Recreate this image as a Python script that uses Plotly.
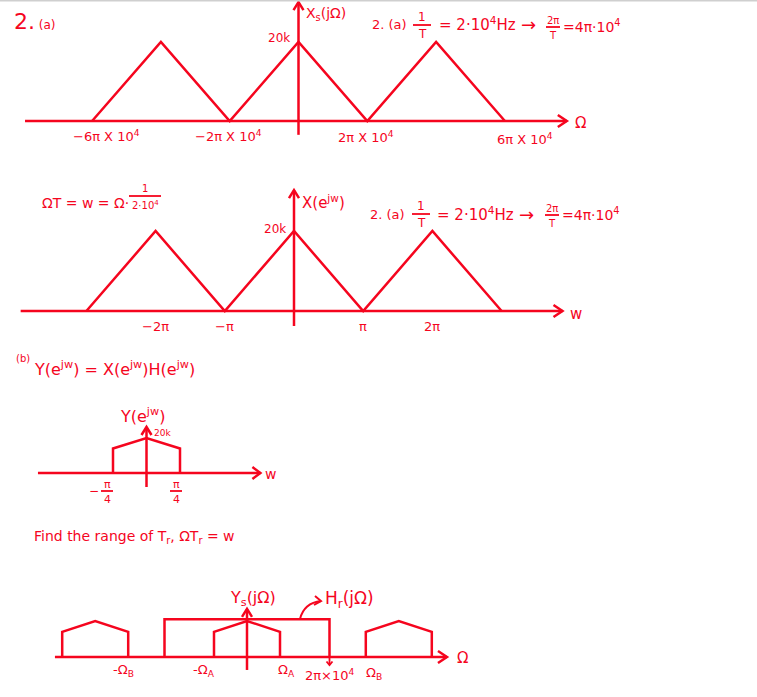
import plotly.graph_objects as go

W, H = 757, 697
RED = "#f5051e"
FONT = "DejaVu Sans"

# ---------------- data ----------------
# Panel 1: Xs(jΩ); Ω in units of π·10^4, amplitude in k
p1_omega = [-6, -4, -2, 0, 2, 4, 6]
p1_amp = [0, 20, 0, 20, 0, 20, 0]
p1_haxis = [-7.95, 7.8]
p1_vaxis = [-3.5, 30.1]
p1_tick_labels = ["−6π X 10<sup>4</sup>", "−2π X 10<sup>4</sup>", "2π X 10<sup>4</sup>", "6π X 10<sup>4</sup>"]

# Panel 2: X(e^jω); ω in units of π
p2_w = [-3, -2, -1, 0, 1, 2, 3]
p2_amp = [0, 20, 0, 20, 0, 20, 0]
p2_haxis = [-3.95, 3.88]
p2_vaxis = [-3.75, 30.2]
p2_tick_vals = [-2, -1, 1, 2]
p2_tick_labels = ["−2π", "−π", "π", "2π"]

# Panel 3: Y(e^jω); ω in units of π
p3_w = [-0.25, -0.25, 0, 0.25, 0.25]
p3_amp = [0, 14, 20, 14, 0]
p3_haxis = [-0.81, 0.85]
p3_vaxis = [-8, 26.3]

# Panel 4: Ys(jΩ) with Hr(jΩ); Ω in units of ΩA
p4_centers = [-4.6, 0, 4.6]
p4_shape_dx = [-1, -1, 0, 1, 1]
p4_shape_amp = [0, 14, 20, 14, 0]
p4_hr_cut = 2.5
p4_hr_gain = 21
p4_haxis = [-5.82, 6.06]
p4_vaxis = [-7.2, 26.7]
p4_tick_vals = [-3.6, -1, 1, 2.5, 3.6]
p4_tick_labels = ["-Ω<sub>B</sub>", "-Ω<sub>A</sub>", "Ω<sub>A</sub>", "2π×10<sup>4</sup>", "Ω<sub>B</sub>"]

# ---------------- panel placement (pixel origin, px per unit) ----------------
panels = {
    2: dict(x0=298.5, sx=34.4, y0=121, sy=3.95),
    3: dict(x0=294.0, sx=69.2, y0=311, sy=4.0),
    4: dict(x0=146.5, sx=134.0, y0=473, sy=1.75),
    5: dict(x0=247.0, sx=33.0, y0=657, sy=1.8),
}

fig = go.Figure()
LW = 2.5


def line(k, xs, ys, width=LW):
    fig.add_trace(go.Scatter(
        x=xs, y=ys, mode="lines", xaxis=f"x{k}", yaxis=f"y{k}",
        line=dict(color=RED, width=width), hoverinfo="skip", showlegend=False))


def axes(k, hx, vy, head=9):
    p = panels[k]
    line(k, hx, [0, 0])
    dx, dy = head / p["sx"], 6 / p["sy"]
    line(k, [hx[1] - dx, hx[1], hx[1] - dx], [dy, 0, -dy])
    line(k, [0, 0], vy)
    dx, dy = 5 / p["sx"], 8 / p["sy"]
    line(k, [-dx, 0, dx], [vy[1] - dy, vy[1], vy[1] - dy])


# panel 1
axes(2, p1_haxis, p1_vaxis)
line(2, p1_omega, p1_amp)
# panel 2
axes(3, p2_haxis, p2_vaxis)
line(3, p2_w, p2_amp)
# panel 3
axes(4, p3_haxis, p3_vaxis, head=8)
line(4, p3_w, p3_amp)
# panel 4
axes(5, p4_haxis, p4_vaxis, head=9)
for c in p4_centers:
    line(5, [c + d for d in p4_shape_dx], p4_shape_amp)
line(5, [-p4_hr_cut, -p4_hr_cut, p4_hr_cut, p4_hr_cut], [0, p4_hr_gain, p4_hr_gain, 0])
p = panels[5]
line(5, [p4_hr_cut, p4_hr_cut], [0, -4.5], width=1.8)
line(5, [p4_hr_cut - 3 / p["sx"], p4_hr_cut, p4_hr_cut + 3 / p["sx"]], [-2.5, -4.5, -2.5], width=1.8)

annotations = []
shapes = []


def T(x, y, s, size=13, xanchor="center", xref="x", yref="y", yshift=0):
    annotations.append(dict(
        x=x, y=y, xref=xref, yref=yref, text=s, showarrow=False,
        font=dict(size=size, color=RED, family=FONT),
        xanchor=xanchor, yanchor="middle", yshift=yshift))


def bar(x0, x1, y, width=1.8):
    shapes.append(dict(type="line", xref="x", yref="y", x0=x0, x1=x1, y0=y, y1=y,
                       line=dict(color=RED, width=width)))


def frac(xc, y, num, den, half, size=11, gap=8):
    bar(xc - half, xc + half, y)
    T(xc, y - gap, num, size)
    T(xc, y + gap + 1, den, size)


# top gray border
shapes.append(dict(type="line", xref="paper", yref="y", x0=0, x1=1, y0=0.5, y1=0.5,
                   line=dict(color="#cfcfcf", width=2)))

# ---- panel 1 text
T(12, 21, "2.<span style='font-size:12px'> (a)</span>", 22, "left")
T(304, 14, "X<sub>s</sub>(jΩ)", 14, "left")
T(292, 38, "20k", 12, "right")
for lbl, xc, yy in zip(p1_tick_labels, [106, 228, 366, 525], [136, 136, 137, 139]):
    T(xc, yy, lbl, 13)
T(573, 123, "Ω", 15, "left")

# header formula row 1
T(370, 24, "2. (a)", 13, "left")
frac(422, 25, "1", "T", 9, 12)
T(437, 24, "= 2·10<sup>4</sup>Hz", 15, "left")
T(519, 24, "→", 18, "left")
frac(553, 27, "2π", "T", 7, 10, 7)
T(561, 26, "=4π·10<sup>4</sup>", 14, "left")

# ---- panel 2 text
T(40, 203, "ΩT = w = Ω·", 14, "left")
frac(145, 196, "1", "2·10<sup>4</sup>", 16, 10, 8)
T(300, 202, "X(e<sup>jw</sup>)", 15, "left")
T(288, 229, "20k", 12, "right")
for v, lbl in zip(p2_tick_vals, p2_tick_labels):
    T(v, 0, lbl, 13, xref="x3", yref="y3", yshift=-15)
T(568, 314, "w", 15, "left")

T(368, 214, "2. (a)", 13, "left")
frac(421, 214, "1", "T", 9, 12)
T(435, 214, "= 2·10<sup>4</sup>Hz", 15, "left")
T(517, 214, "→", 18, "left")
frac(552, 215, "2π", "T", 7, 10, 7)
T(560, 214, "=4π·10<sup>4</sup>", 14, "left")

# ---- panel 3 text
T(14, 358, "(b)", 10, "left")
T(32, 368, "Y(e<sup>jw</sup>) = X(e<sup>jw</sup>)H(e<sup>jw</sup>)", 16, "left")
T(142, 415, "Y(e<sup>jw</sup>)", 16)
T(152, 433, "20k", 9, "left")
T(101, 491, "−", 12, "right")
frac(107, 491, "π", "4", 6, 11, 7)
frac(176, 491, "π", "4", 6, 11, 7)
T(263, 474, "w", 14, "left")
T(32, 537, "Find the range of T<sub>r</sub>, ΩT<sub>r</sub> = w", 14, "left")

# ---- panel 4 text
T(228, 598, "Y<sub>s</sub>(jΩ)", 16, "left")
T(323, 599, "H<sub>r</sub>(jΩ)", 17, "left")
for v, lbl, ys in zip(p4_tick_vals, p4_tick_labels, [-13, -13, -13, -18, -16]):
    xs = v
    if lbl.startswith("Ω<sub>B"):
        xs = v + 0.25
    if lbl.startswith("-Ω<sub>B"):
        xs = v - 0.15
    if lbl.startswith("Ω<sub>A"):
        xs = v + 0.2
    if lbl.startswith("-Ω<sub>A"):
        xs = v - 0.3
    T(xs, 0, lbl, 13, xref="x5", yref="y5", yshift=ys)
T(455, 658, "Ω", 15, "left")
# curved leader to Hr label
shapes.append(dict(type="path", xref="x", yref="y", path="M 300,619 Q 304,603 321,601",
                   line=dict(color=RED, width=2)))
shapes.append(dict(type="path", xref="x", yref="y", path="M 315,596 L 321,601 L 314,605",
                   line=dict(color=RED, width=2)))

layout = dict(
    width=W, height=H, margin=dict(l=0, r=0, t=0, b=0),
    paper_bgcolor="white", plot_bgcolor="rgba(0,0,0,0)",
    font=dict(family=FONT, size=13, color=RED),
    showlegend=False, annotations=annotations, shapes=shapes,
    xaxis=dict(range=[0, W], visible=False, domain=[0, 1], fixedrange=True),
    yaxis=dict(range=[H, 0], visible=False, domain=[0, 1], fixedrange=True),
)
for k, pp in panels.items():
    layout[f"xaxis{k}"] = dict(range=[(0 - pp["x0"]) / pp["sx"], (W - pp["x0"]) / pp["sx"]],
                               visible=False, overlaying="x", anchor=f"y{k}")
    layout[f"yaxis{k}"] = dict(range=[(pp["y0"] - H) / pp["sy"], pp["y0"] / pp["sy"]],
                               visible=False, overlaying="y", anchor=f"x{k}")
fig.update_layout(**layout)
fig.write_html("out.html", config={"displayModeBar": False},
               post_script="document.body.style.margin='0';document.body.style.overflow='hidden';")
